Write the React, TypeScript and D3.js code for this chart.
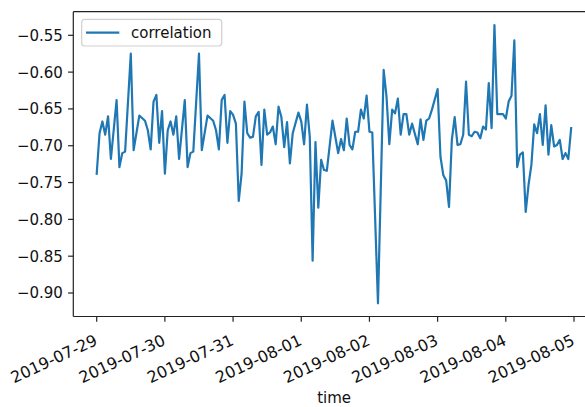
import React from "react";
import * as d3 from "d3";

const HOURS: number[] = [
  0, 1, 2, 3, 4, 5, 7, 8, 9, 10, 12, 13, 15, 17, 18, 19, 20, 21, 22, 23,
  24, 25, 26, 27, 28, 29, 31, 32, 33, 34, 36, 37, 39, 41, 42, 43, 44, 45, 46, 47,
  48, 49, 50, 51, 52, 53, 54, 55, 56, 57, 58, 59, 60, 61, 62, 63, 64, 65, 66, 67,
  68, 69, 71, 72, 73, 74, 75, 76, 77, 78, 79, 80, 81, 83, 85, 86, 87, 88, 89, 90,
  91, 92, 93, 94, 95, 96, 97, 99, 101, 102, 103, 104, 105, 106, 107, 108, 109, 110, 111, 113,
  114, 115, 116, 117, 118, 120, 121, 122, 123, 124, 125, 126, 127, 128, 129, 130, 131, 132, 133, 134,
  135, 136, 137, 138, 139, 140, 141, 143, 144, 145, 146, 147, 148, 149, 150, 151, 152, 153, 154, 155,
  156, 157, 158, 159, 160, 161, 162, 163, 164, 165, 166, 167,
];

const CORRELATION: number[] = [
  -0.738, -0.683, -0.667, -0.685, -0.66, -0.718, -0.638, -0.729, -0.71, -0.708, -0.575, -0.706, -0.659, -0.666, -0.679, -0.705, -0.64, -0.631, -0.696, -0.653,
  -0.738, -0.679, -0.667, -0.685, -0.66, -0.718, -0.638, -0.729, -0.71, -0.708, -0.575, -0.706, -0.659, -0.666, -0.679, -0.705, -0.638, -0.631, -0.696, -0.653,
  -0.658, -0.67, -0.775, -0.738, -0.64, -0.683, -0.689, -0.688, -0.66, -0.654, -0.726, -0.651, -0.685, -0.682, -0.674, -0.698, -0.647, -0.661, -0.702, -0.668,
  -0.724, -0.683, -0.655, -0.667, -0.698, -0.644, -0.688, -0.856, -0.695, -0.784, -0.719, -0.733, -0.734, -0.666, -0.71, -0.691, -0.706, -0.663, -0.699, -0.705,
  -0.681, -0.681, -0.651, -0.663, -0.632, -0.681, -0.682, -0.914, -0.597, -0.633, -0.698, -0.651, -0.656, -0.636, -0.685, -0.657, -0.657, -0.685, -0.67, -0.698,
  -0.664, -0.692, -0.666, -0.663, -0.651, -0.623, -0.715, -0.74, -0.747, -0.783, -0.692, -0.661, -0.699, -0.698, -0.685, -0.613, -0.685, -0.687, -0.681, -0.682,
  -0.69, -0.674, -0.678, -0.615, -0.676, -0.536, -0.657, -0.657, -0.663, -0.64, -0.632, -0.557, -0.729, -0.712, -0.709, -0.79, -0.753, -0.726, -0.671, -0.683,
  -0.657, -0.699, -0.645, -0.712, -0.672, -0.701, -0.699, -0.692, -0.718, -0.71, -0.718, -0.676,
];

const Y_TICKS: number[] = [-0.55, -0.6, -0.65, -0.7, -0.75, -0.8, -0.85, -0.9];
const X_TICK_LABELS: string[] = [
  "2019-07-29", "2019-07-30", "2019-07-31", "2019-08-01",
  "2019-08-02", "2019-08-03", "2019-08-04", "2019-08-05",
];
const SERIES_NAME = "correlation";
const X_LABEL = "time";

const W = 585;
const H = 407;
const LEFT = 73.3;
const TOP = 11.7;
const BOTTOM = 316.5;
const RIGHT = 595;
const FONT = "'DejaVu Sans', sans-serif";
const FS = 15;
const XFS = 16;
const COLOR = "#1f77b4";

export default function App() {
  const t0 = Date.UTC(2019, 6, 29);
  const dates = HOURS.map((h) => new Date(t0 + h * 3600e3));
  const x = d3
    .scaleUtc()
    .domain([new Date(Date.UTC(2019, 6, 29)), new Date(Date.UTC(2019, 7, 5))])
    .range([96.7, 574]);
  const y = d3.scaleLinear().domain([-0.55, -0.9]).range([35.3, 293]);

  const line = d3
    .line<number>()
    .x((_, i) => x(dates[i]))
    .y((d) => y(d));
  const path = line(CORRELATION) || "";

  const xTicks = X_TICK_LABELS.map((s) => {
    const [yy, mm, dd] = s.split("-").map(Number);
    return { label: s, date: new Date(Date.UTC(yy, mm - 1, dd)) };
  });

  const tickLen = 5.2;
  const fmt = (v: number) => (v < 0 ? "\u2212" : "") + Math.abs(v).toFixed(2);

  return (
    <svg
      width={W}
      height={H}
      style={{ position: "absolute", left: 0, top: 0, display: "block", background: "#fff" }}
      fontFamily={FONT}
    >
      <rect x={0} y={0} width={W} height={H} fill="#fff" />
      <defs>
        <clipPath id="plotclip">
          <rect x={LEFT} y={TOP} width={RIGHT - LEFT} height={BOTTOM - TOP} />
        </clipPath>
      </defs>
      <path
        d={path}
        fill="none"
        stroke={COLOR}
        strokeWidth={2.2}
        strokeLinejoin="round"
        strokeLinecap="square"
        clipPath="url(#plotclip)"
      />
      <g stroke="#222" strokeWidth={1.2} fill="none">
        <line x1={LEFT} y1={TOP} x2={LEFT} y2={BOTTOM} />
        <line x1={LEFT} y1={TOP} x2={RIGHT} y2={TOP} />
        <line x1={LEFT} y1={BOTTOM} x2={RIGHT} y2={BOTTOM} />
      </g>
      {Y_TICKS.map((v) => (
        <g key={v}>
          <line x1={LEFT - tickLen} x2={LEFT} y1={y(v)} y2={y(v)} stroke="#222" strokeWidth={1.2} />
          <text
            x={LEFT - tickLen - 5.2}
            y={y(v)}
            dy="0.36em"
            textAnchor="end"
            fontSize={FS}
            fill="#111"
          >
            {fmt(v)}
          </text>
        </g>
      ))}
      {xTicks.map((t) => {
        const tx = x(t.date);
        const ax = tx + 1.7;
        const ay = 344.2;
        return (
          <g key={t.label}>
            <line x1={tx} x2={tx} y1={BOTTOM} y2={BOTTOM + tickLen} stroke="#222" strokeWidth={1.2} />
            <text
              x={ax}
              y={ay}
              textAnchor="end"
              fontSize={XFS}
              fill="#111"
              transform={`rotate(-25, ${ax}, ${ay})`}
            >
              {t.label}
            </text>
          </g>
        );
      })}
      <text x={(LEFT + RIGHT) / 2} y={403} textAnchor="middle" fontSize={FS} fill="#111">
        {X_LABEL}
      </text>
      <rect
        x={81.7}
        y={19.3}
        width={140}
        height={26.7}
        rx={3}
        ry={3}
        fill="#fff"
        fillOpacity={0.8}
        stroke="#d0d0d0"
        strokeWidth={1.2}
      />
      <line x1={86} x2={119.3} y1={32.7} y2={32.7} stroke={COLOR} strokeWidth={2.2} />
      <text x={131} y={32.7} dy="0.36em" fontSize={FS} fill="#111">
        {SERIES_NAME}
      </text>
    </svg>
  );
}
